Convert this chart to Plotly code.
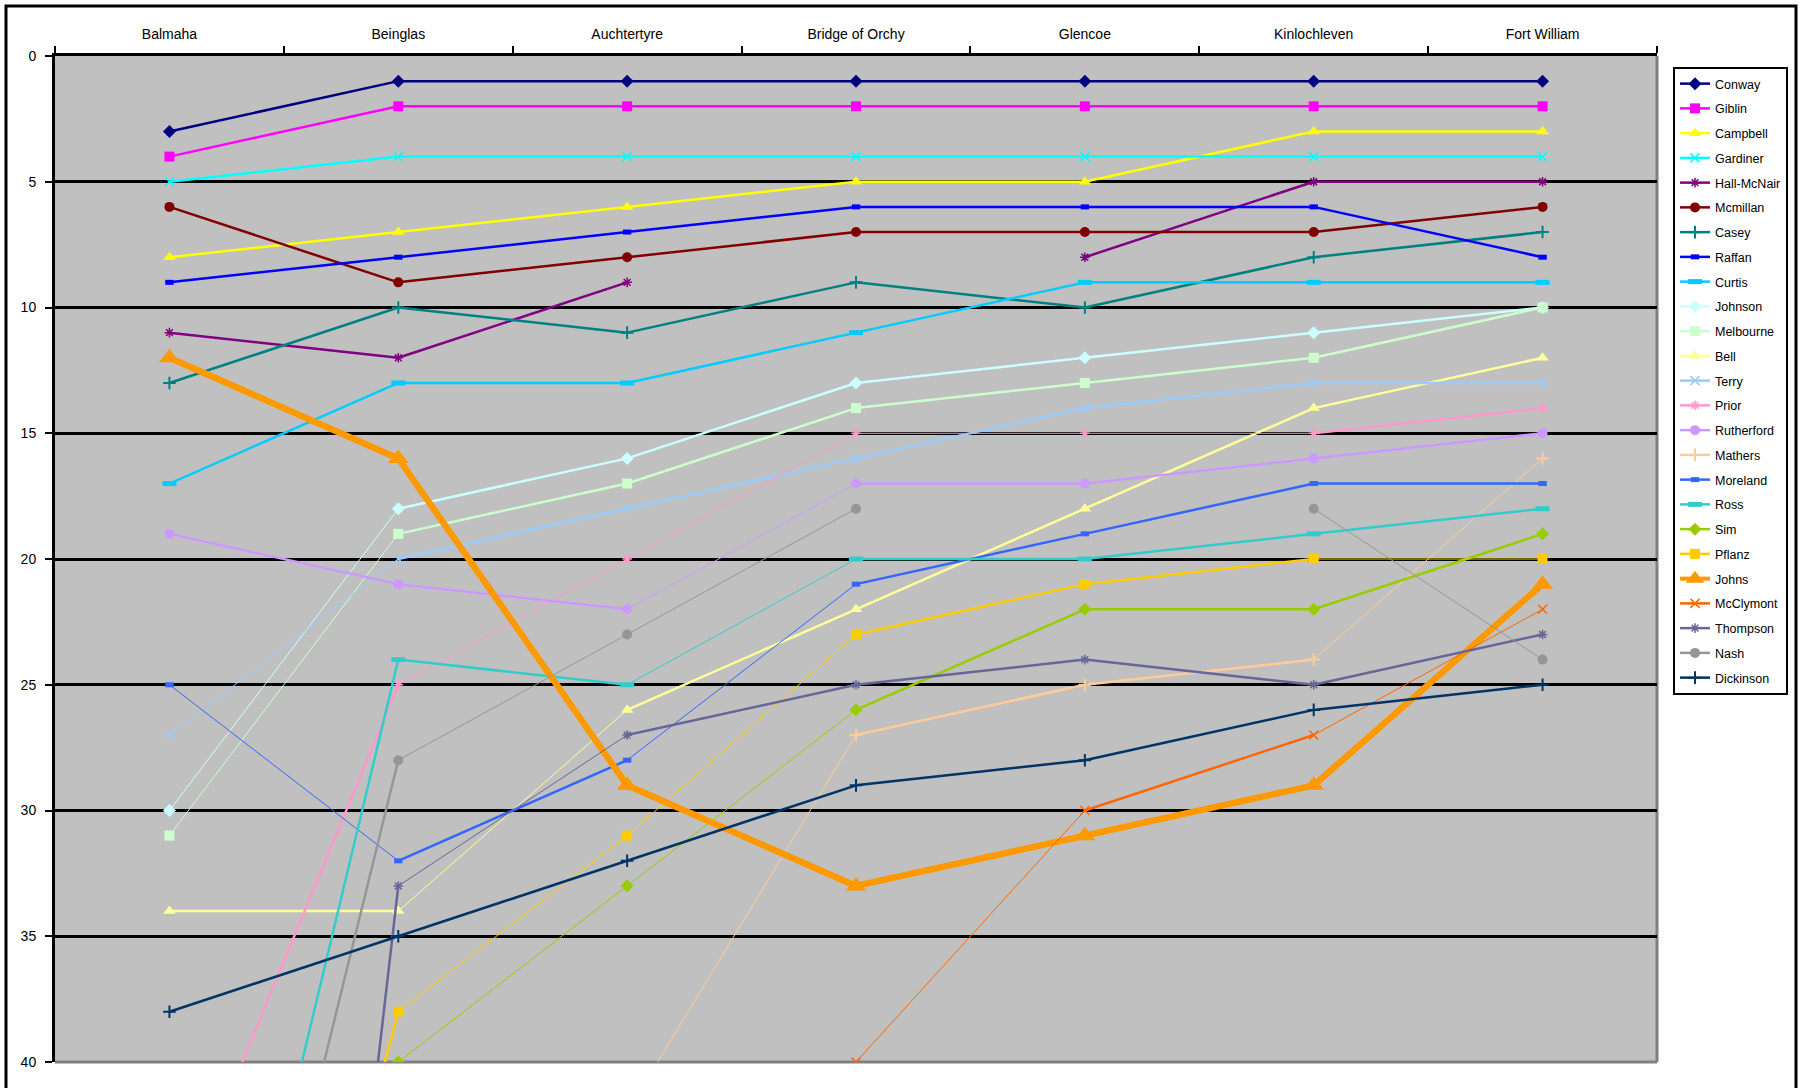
import plotly.graph_objects as go

# ---------------- data ----------------
categories = ["Balmaha", "Beinglas", "Auchtertyre", "Bridge of Orchy",
              "Glencoe", "Kinlochleven", "Fort William"]

conway = [3, 1, 1, 1, 1, 1, 1]
giblin = [4, 2, 2, 2, 2, 2, 2]
campbell = [8, 7, 6, 5, 5, 3, 3]
gardiner = [5, 4, 4, 4, 4, 4, 4]
hall_mcnair = [11, 12, 9, None, 8, 5, 5]
mcmillan = [6, 9, 8, 7, 7, 7, 6]
casey = [13, 10, 11, 9, 10, 8, 7]
raffan = [9, 8, 7, 6, 6, 6, 8]
curtis = [17, 13, 13, 11, 9, 9, 9]
johnson = [30, 18, 16, 13, 12, 11, 10]
melbourne = [31, 19, 17, 14, 13, 12, 10]
bell = [34, 34, 26, 22, 18, 14, 12]
terry = [27, 20, 18, 16, 14, 13, 13]
prior = [47, 25, 20, 15, 15, 15, 14]
rutherford = [19, 21, 22, 17, 17, 16, 15]
mathers = [None, None, 42, 27, 25, 24, 16]
moreland = [25, 32, 28, 21, 19, 17, 17]
ross = [62, 24, 25, 20, 20, 19, 18]
sim = [None, 40, 33, 26, 22, 22, 19]
pflanz = [72, 38, 31, 23, 21, 20, 20]
johns = [12, 16, 29, 33, 31, 29, 21]
mcclymont = [None, None, None, 40, 30, 27, 22]
thompson = [112, 33, 27, 25, 24, 25, 23]
nash = [65, 28, 23, 18, None, 18, 24]
dickinson = [38, 35, 32, 29, 28, 26, 25]

series = [
    ("Conway", conway), ("Giblin", giblin), ("Campbell", campbell),
    ("Gardiner", gardiner), ("Hall-McNair", hall_mcnair), ("Mcmillan", mcmillan),
    ("Casey", casey), ("Raffan", raffan), ("Curtis", curtis),
    ("Johnson", johnson), ("Melbourne", melbourne), ("Bell", bell),
    ("Terry", terry), ("Prior", prior), ("Rutherford", rutherford),
    ("Mathers", mathers), ("Moreland", moreland), ("Ross", ross),
    ("Sim", sim), ("Pflanz", pflanz), ("Johns", johns),
    ("McClymont", mcclymont), ("Thompson", thompson), ("Nash", nash),
    ("Dickinson", dickinson),
]

# ---------------- styles ----------------
colors = ["#000080", "#FF00FF", "#FFFF00", "#00FFFF", "#800080", "#800000",
          "#008080", "#0000FF", "#00CCFF", "#CCFFFF", "#CCFFCC", "#FFFF99",
          "#99CCFF", "#FF99CC", "#CC99FF", "#FFCC99", "#3366FF", "#33CCCC",
          "#99CC00", "#FFCC00", "#FF9900", "#FF6600", "#666699", "#969696",
          "#003366"]

# symbol, size, outline width (for open/line symbols)
marker_cycle = [
    ("diamond", 10, 0),
    ("square", 10, 0),
    ("triangle-up", 11, 0),
    ("x-thin-open", 9, 1.5),
    ("asterisk-open", 8, 1.5),
    ("circle", 10, 0),
    ("cross-thin-open", 9, 2),
    ("line-ew-open", 6, 5),
    ("line-ew-open", 10, 5),
]

normal_w = 2.5
thin_w = 1.0
special_w = {"Johns": 6.5}
special_size = {"Johns": 18}
thin_segments = {
    "Johnson": [0], "Melbourne": [0], "Terry": [0], "Bell": [1],
    "Prior": [1, 2, 3, 4], "Rutherford": [2], "Mathers": [2, 5],
    "Moreland": [0, 2], "Ross": [2], "Sim": [1, 2], "Pflanz": [1, 2, 5],
    "McClymont": [3, 5], "Thompson": [1], "Nash": [1, 2, 5],
}

FONT = "Liberation Sans, Arial, sans-serif"

fig = go.Figure()

for i, (name, vals) in enumerate(series):
    color = colors[i]
    sym, msize, olw = marker_cycle[i % 9]
    msize = special_size.get(name, msize)
    lw = special_w.get(name, normal_w)
    thin = thin_segments.get(name, [])
    grp = name

    # line segments, grouped by width
    for seg_is_thin in (False, True):
        xs, ys = [], []
        for k in range(len(categories) - 1):
            if vals[k] is None or vals[k + 1] is None:
                continue
            if (k in thin) != seg_is_thin:
                continue
            xs += [categories[k], categories[k + 1], categories[k + 1]]
            ys += [vals[k], vals[k + 1], None]
        if xs:
            fig.add_trace(go.Scatter(
                x=xs, y=ys, mode="lines", legendgroup=grp, showlegend=False,
                line=dict(color=color, width=thin_w if seg_is_thin else lw),
                hoverinfo="skip", connectgaps=False))

    mk = dict(symbol=sym, size=msize, color=color,
              line=dict(color=color, width=olw if olw else 0))
    # markers
    fig.add_trace(go.Scatter(
        x=categories, y=vals, mode="markers", legendgroup=grp,
        showlegend=False, marker=mk, name=name))
    # legend entry
    fig.add_trace(go.Scatter(
        x=[None], y=[None], mode="lines+markers", legendgroup=grp,
        name=name, showlegend=True, marker=mk,
        line=dict(color=color, width=min(lw, 4))))

# ---------------- layout ----------------
W, H = 1800, 1088
L, R, T, B = 55, 1657, 56, 1062


def px_x(p):
    return (p - L) / (R - L)


def px_y(p):
    return (B - p) / (B - T)


fig.update_layout(
    width=W, height=H,
    margin=dict(l=L, r=W - R, t=T, b=H - B, pad=0),
    paper_bgcolor="white",
    plot_bgcolor="#C0C0C0",
    font=dict(family=FONT, size=13, color="black"),
    showlegend=True,
    legend=dict(
        x=px_x(1673), y=px_y(67), xanchor="left", yanchor="top",
        bgcolor="white", bordercolor="black", borderwidth=2,
        font=dict(family=FONT, size=12.5, color="black"),
        traceorder="grouped", tracegroupgap=5.5,
    ),
    xaxis=dict(
        type="category", categoryorder="array", categoryarray=categories,
        side="top", range=[-0.5, 6.5],
        showgrid=False, zeroline=False,
        showline=True, linecolor="black", linewidth=3,
        ticks="outside", tickson="boundaries", ticklen=7, tickwidth=2,
        tickcolor="black", ticklabelstandoff=8,
        tickfont=dict(family=FONT, size=14, color="black"),
    ),
    yaxis=dict(
        range=[40, 0], tickmode="array",
        tickvals=[0, 5, 10, 15, 20, 25, 30, 35, 40],
        ticktext=["0", "5", "10", "15", "20", "25", "30", "35", "40"],
        showgrid=True, gridcolor="black", gridwidth=2.5,
        zeroline=False,
        showline=True, linecolor="black", linewidth=3,
        ticks="outside", ticklen=7, tickwidth=2, tickcolor="black",
        ticklabelstandoff=6,
        tickfont=dict(family=FONT, size=14, color="black"),
    ),
    shapes=[
        # bottom border of plot area (grey)
        dict(type="line", xref="paper", yref="paper", x0=0, x1=1, y0=0, y1=0,
             line=dict(color="#808080", width=3), layer="between"),
        # right border of plot area (grey)
        dict(type="line", xref="paper", yref="paper", x0=1, x1=1, y0=0, y1=1,
             line=dict(color="#808080", width=3), layer="between"),
        # outer chart frame
        dict(type="rect", xref="paper", yref="paper",
             x0=px_x(6), x1=px_x(1796), y0=px_y(1095), y1=px_y(6),
             line=dict(color="black", width=3), fillcolor="rgba(0,0,0,0)",
             layer="below"),
    ],
)

fig.write_html("out.html")
